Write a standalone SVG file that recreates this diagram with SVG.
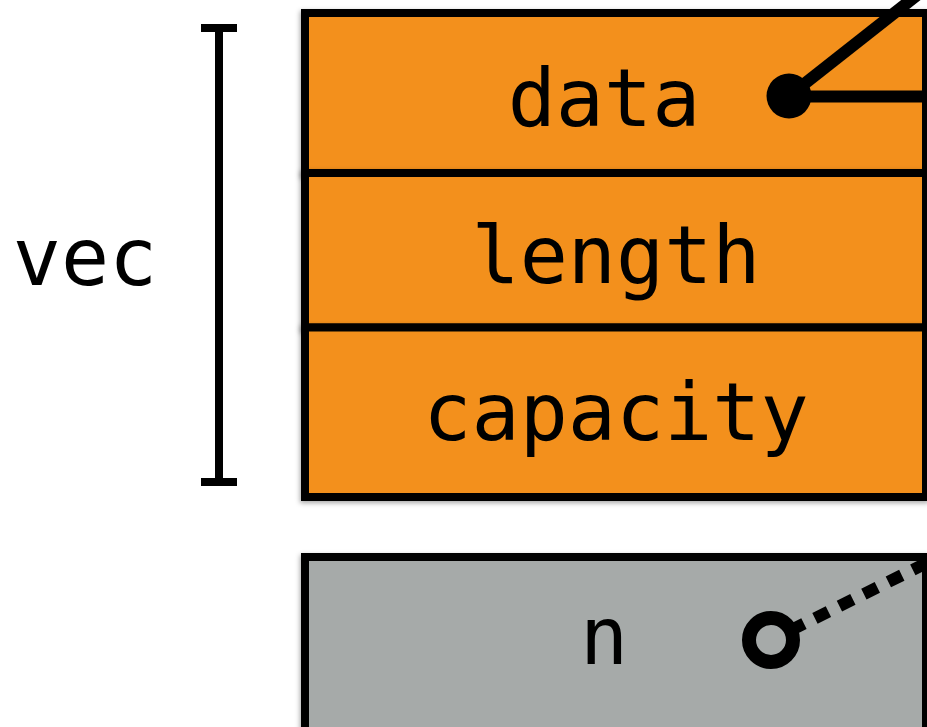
<svg xmlns="http://www.w3.org/2000/svg" width="927" height="727" viewBox="0 0 927 727">
  <defs>
    <filter id="sh" x="-5%" y="-10%" width="110%" height="125%">
      <feDropShadow dx="-1" dy="2" stdDeviation="2.5" flood-color="#000" flood-opacity="0.35"/>
    </filter>
  </defs>
  <style>
    .cell { fill: #F3901B; stroke: #000; stroke-width: 8; }
    .grey { fill: #A6AAA9; stroke: #000; stroke-width: 8; }
    .lbl { font-family: "DejaVu Sans Mono", "Liberation Mono", monospace; font-size: 80px; fill: #000; text-anchor: middle; }
    .ln { stroke: #000; stroke-width: 12; fill: none; }
    .br { stroke: #000; stroke-width: 8; fill: none; }
  </style>
  <rect width="927" height="727" fill="#fff"/>

  <g id="vec-label">
    <text class="lbl" x="85" y="285">vec</text>
  </g>
  <g id="bracket">
    <line class="br" x1="219" y1="28" x2="219" y2="482"/>
    <line class="br" x1="201" y1="28" x2="237" y2="28"/>
    <line class="br" x1="201" y1="482" x2="237" y2="482"/>
  </g>

  <g id="data">
    <rect class="cell" filter="url(#sh)" x="305" y="13" width="621" height="160"/>
    <text class="lbl" x="604" y="126">data</text>
  </g>
  <g id="length">
    <rect class="cell" filter="url(#sh)" x="305" y="173" width="621" height="154.5"/>
    <text class="lbl" x="616" y="283">length</text>
  </g>
  <g id="capacity">
    <rect class="cell" filter="url(#sh)" x="305" y="327.5" width="621" height="169.5"/>
    <text class="lbl" x="616" y="440">capacity</text>
  </g>
  <g id="n">
    <rect class="grey" filter="url(#sh)" x="305" y="557" width="621" height="180"/>
    <text class="lbl" x="604" y="664">n</text>
  </g>

  <g id="connectors">
    <line class="ln" x1="789" y1="96.5" x2="935" y2="96.5"/>
    <line class="ln" x1="789" y1="96" x2="935" y2="-19"/>
    <circle cx="789" cy="96" r="22.5" fill="#000"/>
    <line class="ln" x1="790.5" y1="630.4" x2="960" y2="546.4" stroke-dasharray="15 12.3"/>
    <circle cx="771" cy="640" r="22" fill="#A6AAA9" stroke="#000" stroke-width="14"/>
  </g>
</svg>
